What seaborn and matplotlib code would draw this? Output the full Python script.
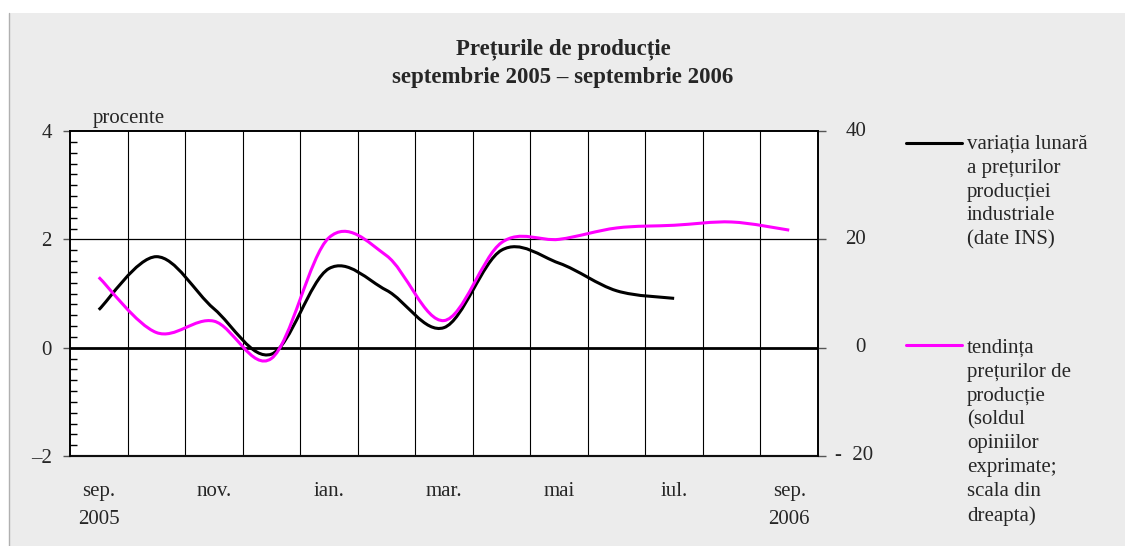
import numpy as np
import matplotlib
matplotlib.use("Agg")
import matplotlib.pyplot as plt
import matplotlib.transforms as mtransforms
from matplotlib.path import Path
from matplotlib.patches import PathPatch, Rectangle
from matplotlib.lines import Line2D
import seaborn as sns

# data
months = ["sep", "oct", "nov", "dec", "ian", "feb", "mar",
          "apr", "mai", "iun", "iul", "aug", "sep2"]
variatia = [0.70, 1.68, 0.72, -0.12, 1.46, 1.06, 0.37,
            1.80, 1.56, 1.05, 0.91]            # procente, scala stanga
tendinta = [13.0, 2.8, 4.9, -2.0, 20.3, 17.0, 5.0,
            19.4, 20.0, 22.1, 22.6, 23.2, 21.7]  # sold, scala dreapta
tick_pos = [0, 2, 4, 6, 8, 10, 12]
tick_labels = ["sep.\n2005", "nov.", "ian.", "mar.", "mai", "iul.", "sep.\n2006"]
right_ticks = [-20, 0, 20, 40]
right_labels = ["-  20", "0", "20", "40"]

sns.set_style("white")
plt.rcParams["font.family"] = ["Liberation Serif", "DejaVu Serif"]

FS = 15


def smooth_path(xs, ys):
    # Excel-like smoothed line: cubic Bezier through every point
    pts = np.column_stack([xs, ys])
    n = len(pts)
    verts = [pts[0]]
    codes = [Path.MOVETO]
    for i in range(n - 1):
        p0 = pts[i - 1] if i > 0 else pts[i]
        p1 = pts[i]
        p2 = pts[i + 1]
        p3 = pts[i + 2] if i + 2 < n else pts[i + 1]
        c1 = p1 + (p2 - p0) / 6.0
        c2 = p2 - (p3 - p1) / 6.0
        verts += [c1, c2, p2]
        codes += [Path.CURVE4] * 3
    return Path(verts, codes)


fig = plt.figure(figsize=(11.25, 5.46), dpi=100)
fig.patch.set_facecolor("white")
fig.add_artist(Rectangle((9 / 1125, 0), 1 - 9 / 1125, 1 - 13 / 546,
                         transform=fig.transFigure, facecolor="#ececec",
                         edgecolor="none", zorder=-10))
fig.add_artist(Line2D([9 / 1125, 9 / 1125], [0, 1 - 13 / 546],
                      transform=fig.transFigure, color="#b0b0b0", lw=1))

ax = fig.add_axes([70 / 1125, 1 - 456 / 546, 748 / 1125, 325 / 546])
ax.set_facecolor("white")
x = np.arange(len(months))
ax.set_xlim(-0.5, len(months) - 0.5)
ax.set_ylim(-2, 4)

# vertical separators between months
for b in np.arange(0.5, len(months) - 0.5, 1):
    ax.axvline(b, color="black", lw=0.8, zorder=1)
ax.axhline(2, color="black", lw=0.9, zorder=1)
ax.axhline(0, color="black", lw=2.0, zorder=2)

ax2 = ax.twinx()
ax2.set_ylim(-20, 40)

ax.add_patch(PathPatch(smooth_path(x[:len(variatia)], variatia),
                       facecolor="none", edgecolor="black", lw=2.2, zorder=4))
ax2.add_patch(PathPatch(smooth_path(x, tendinta),
                        facecolor="none", edgecolor="#ff00ff", lw=2.2, zorder=3))

for a in (ax, ax2):
    for s in a.spines.values():
        s.set_color("black")
        s.set_linewidth(1.2)
ax.spines["bottom"].set_color("#555555")
ax.spines["bottom"].set_linewidth(1.6)

ax.set_yticks([-2, 0, 2, 4])
ax.set_yticklabels(["\u20132", "0", "2", "4"])
ax.set_yticks(np.arange(-2, 4.01, 0.2), minor=True)
ax.tick_params(axis="y", which="major", direction="out", length=5,
               width=1, labelsize=FS, pad=8, color="#555555")
ax.tick_params(axis="y", which="minor", direction="in", length=5,
               width=1, color="black")
ax.set_xticks(tick_pos)
ax.set_xticklabels(tick_labels, fontsize=FS, linespacing=1.58)
ax.tick_params(axis="x", length=0, pad=19)

ax2.set_yticks(right_ticks)
ax2.set_yticklabels([])
ax2.tick_params(axis="y", direction="out", length=6, width=1, color="#555555")
rtrans = mtransforms.blended_transform_factory(fig.transFigure, ax2.transData)
for v, lab in zip(right_ticks, right_labels):
    xr = 873 if lab.startswith("-") else 866
    ax2.text(xr / 1125, v, lab, transform=rtrans, ha="right", va="center",
             fontsize=FS, clip_on=False)

ax.text(93 / 1125, 1 - 119 / 546, "procente", transform=fig.transFigure,
        fontsize=FS, va="center", ha="left")

fig.text(563 / 1125, 1 - 63 / 546,
         "Pre\u021burile de produc\u021bie\nseptembrie 2005 \u2013 septembrie 2006",
         ha="center", va="center", fontsize=16.5, fontweight="bold", linespacing=1.4)

# legend on the right
leg_items = [
    ("black", 143, 147, "varia\u021bia lunar\u0103\na pre\u021burilor\nproduc\u021biei\nindustriale\n(date INS)"),
    ("#ff00ff", 345, 351, "tendin\u021ba\npre\u021burilor de\nproduc\u021bie\n(soldul\nopiniilor\nexprimate;\nscala din\ndreapta)"),
]
for col, yp, yt, txt in leg_items:
    fig.add_artist(Line2D([906 / 1125, 962 / 1125], [1 - yp / 546, 1 - yp / 546],
                          transform=fig.transFigure, color=col, lw=2.2))
    fig.text(967 / 1125, 1 - (yt - 12) / 546, txt, ha="left", va="top",
             fontsize=FS, linespacing=1.34)

fig.savefig("out.png", dpi=100, facecolor=fig.get_facecolor())
